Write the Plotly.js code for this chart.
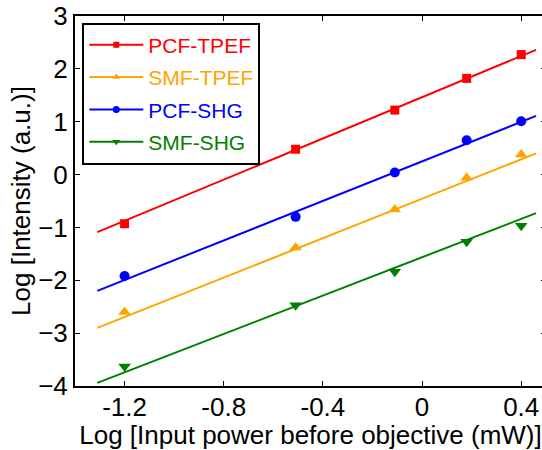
<!DOCTYPE html>
<html>
<head>
<meta charset="utf-8">
<script src="https://cdn.plot.ly/plotly-3.0.1.min.js"></script>
<style>html,body{margin:0;padding:0;overflow:hidden;background:#fff;}#chart{width:546px;height:450px;}</style>
</head>
<body>
<div id="chart"></div>
<script>
// Data
const seriesNames = ["PCF-TPEF", "SMF-TPEF", "PCF-SHG", "SMF-SHG"];
const xPower = [-1.2, -0.51, -0.11, 0.18, 0.4];
const pcfTpef = [-0.93, 0.48, 1.22, 1.82, 2.27];
const smfTpef = [-2.6, -1.38, -0.66, -0.06, 0.38];
const pcfShg = [-1.92, -0.8, 0.04, 0.65, 1.01];
const smfShg = [-3.63, -2.47, -1.84, -1.27, -0.97];
// Linear fit lines (end points)
const fitX = [-1.31, 0.46];
const fitPcfTpef = [-1.09, 2.36];
const fitSmfTpef = [-2.9, 0.4];
const fitPcfShg = [-2.2, 1.11];
const fitSmfShg = [-3.94, -0.73];
const xTicks = [-1.2, -0.8, -0.4, 0, 0.4];
const xTickText = ["-1.2", "-0.8", "-0.4", "0", "0.4"];
const yTicks = [-4, -3, -2, -1, 0, 1, 2, 3];

const colors = ["#ff0000", "#ffa500", "#0000ff", "#008000"];
const symbols = ["square", "triangle-up", "circle", "triangle-down"];
const markerSizes = [9, 11, 10, 11];
const legendSizes = [6, 7, 7, 7];
const pts = [pcfTpef, smfTpef, pcfShg, smfShg];
const fits = [fitPcfTpef, fitSmfTpef, fitPcfShg, fitSmfShg];

const FONT = "Liberation Sans, Arial, Helvetica, sans-serif";
const traces = [];
for (let i = 0; i < 4; i++) {
  traces.push({
    x: fitX, y: fits[i], mode: "lines", type: "scatter",
    line: {color: colors[i], width: 2}, showlegend: false, hoverinfo: "skip"
  });
  traces.push({
    x: xPower, y: pts[i], mode: "markers", type: "scatter",
    marker: {color: colors[i], symbol: symbols[i], size: markerSizes[i]},
    showlegend: false
  });
}
for (let i = 0; i < 4; i++) {
  traces.push({
    x: [null], y: [null], mode: "lines+markers", type: "scatter",
    name: '<span style="color:' + colors[i] + '">' + seriesNames[i] + '</span>',
    legendgroup: "g" + i,
    line: {color: colors[i], width: 2},
    marker: {color: colors[i], symbol: symbols[i], size: legendSizes[i]}
  });
}

const axisCommon = {
  showgrid: false, zeroline: false, showline: true, linecolor: "#000", linewidth: 2,
  mirror: "ticks", ticks: "inside", ticklen: 5, tickwidth: 1, tickcolor: "#000",
  tickfont: {family: FONT, size: 26, color: "#000"}
};

const layout = {
  width: 546, height: 450,
  margin: {l: 75, r: 0, t: 16, b: 64},
  paper_bgcolor: "#fff", plot_bgcolor: "#fff",
  font: {family: FONT, color: "#000"},
  xaxis: Object.assign({}, axisCommon, {
    range: [-1.4, 0.5], tickvals: xTicks, ticktext: xTickText,
    ticklabelstandoff: -3,
    title: {text: "Log [Input power before objective (mW)]", font: {family: FONT, size: 26, color: "#000"}, standoff: 12}
  }),
  yaxis: Object.assign({}, axisCommon, {
    range: [-4, 3], tickvals: yTicks,
    title: {text: "Log [Intensity (a.u.)]", font: {family: FONT, size: 26, color: "#000"}, standoff: 0}
  }),
  legend: {
    x: 0.0155, y: 0.982, xanchor: "left", yanchor: "top",
    bgcolor: "#fff", bordercolor: "#000", borderwidth: 2,
    font: {family: FONT, size: 21, color: "#000"},
    itemwidth: 54, tracegroupgap: 2, traceorder: "grouped"
  },
  showlegend: true
};

Plotly.newPlot("chart", traces, layout, {displayModeBar: false, staticPlot: true});
</script>
</body>
</html>
